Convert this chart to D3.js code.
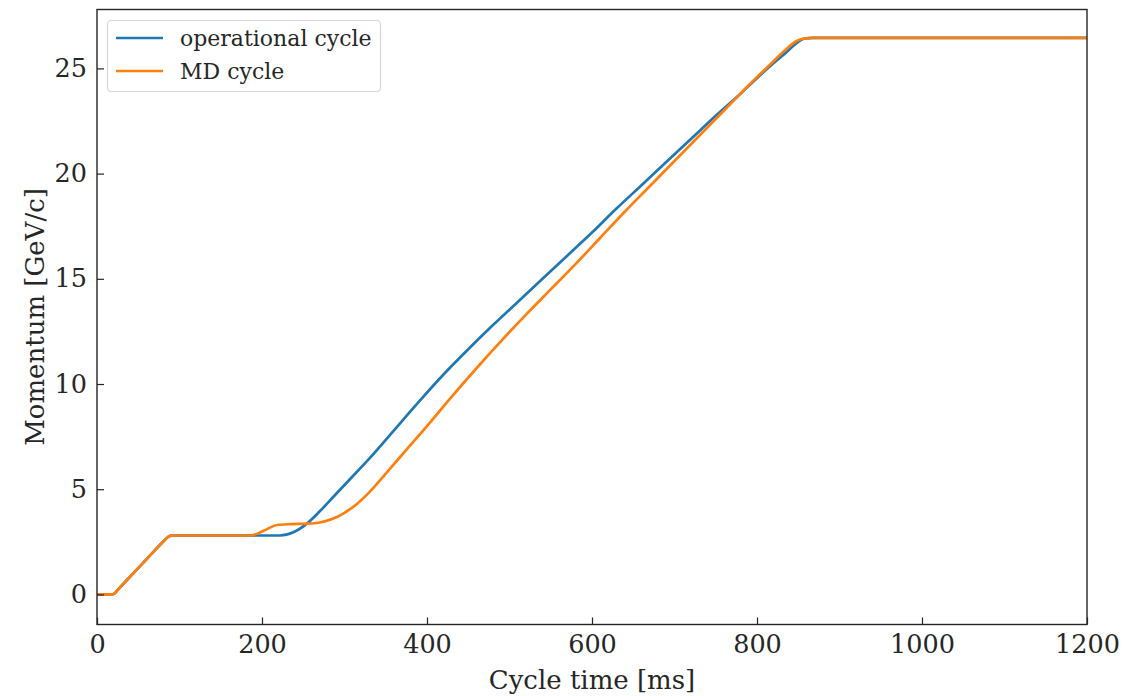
<!DOCTYPE html>
<html>
<head>
<meta charset="utf-8">
<script src="https://cdn.jsdelivr.net/npm/d3@7"></script>
<style>
  html, body { margin: 0; padding: 0; background: #fff; }
  svg { display: block; }
  text { font-family: "DejaVu Serif", serif; fill: #262626; }
</style>
</head>
<body>
<svg id="chart" width="1124" height="696"></svg>
<script>
// Momentum along the magnetic cycle (time in ms, momentum in GeV/c)
const operationalTime = [0, 18, 21, 25, 40, 60, 80, 84, 87, 91, 96, 222, 238, 254, 270, 288, 306, 330, 360, 390, 420, 450, 480, 510, 540, 570, 600, 630, 660, 690, 720, 750, 780, 810, 835, 848, 858, 868, 1200];
const operationalMomentum = [0, 0, 0.04, 0.21, 0.84, 1.67, 2.5, 2.66, 2.75, 2.79, 2.8, 2.8, 2.95, 3.35, 3.95, 4.7, 5.45, 6.45, 7.8, 9.15, 10.45, 11.65, 12.8, 13.9, 15.0, 16.1, 17.2, 18.35, 19.45, 20.55, 21.65, 22.75, 23.8, 24.9, 25.75, 26.2, 26.42, 26.45, 26.45];

const mdTime = [0, 18, 21, 25, 40, 60, 80, 84, 87, 91, 96, 185, 195, 205, 218, 235, 255, 270, 285, 300, 315, 330, 347, 370, 400, 430, 460, 490, 520, 550, 580, 610, 640, 670, 700, 730, 760, 775, 790, 815, 835, 848, 858, 868, 1200];
const mdMomentum = [0, 0, 0.04, 0.21, 0.84, 1.67, 2.5, 2.66, 2.75, 2.79, 2.8, 2.8, 2.9, 3.08, 3.3, 3.34, 3.36, 3.42, 3.58, 3.88, 4.3, 4.85, 5.6, 6.65, 8.0, 9.4, 10.75, 12.05, 13.3, 14.5, 15.7, 16.95, 18.2, 19.4, 20.6, 21.8, 23.0, 23.6, 24.2, 25.15, 25.9, 26.3, 26.43, 26.45, 26.45];

const seriesNames = ["operational cycle", "MD cycle"];
const seriesColors = ["#1f77b4", "#ff7f0e"];

const xTicks = [0, 200, 400, 600, 800, 1000, 1200];
const yTicks = [0, 5, 10, 15, 20, 25];

const plot = { left: 97, right: 1087, top: 9.5, bottom: 624.5 };

const svg = d3.select("#chart");

const x = d3.scaleLinear().domain([0, 1200]).range([plot.left, plot.right]);
const y = d3.scaleLinear().domain([-1.43, 27.8]).range([plot.bottom, plot.top]);

const series = [
  { name: seriesNames[0], color: seriesColors[0], pts: operationalTime.map((t, i) => [t, operationalMomentum[i]]) },
  { name: seriesNames[1], color: seriesColors[1], pts: mdTime.map((t, i) => [t, mdMomentum[i]]) }
];

const line = d3.line()
  .x(d => x(d[0]))
  .y(d => y(d[1]))
  .curve(d3.curveMonotoneX);

svg.append("defs").append("clipPath").attr("id", "plotClip")
  .append("rect")
  .attr("x", plot.left).attr("y", plot.top)
  .attr("width", plot.right - plot.left).attr("height", plot.bottom - plot.top);

const lines = svg.append("g").attr("clip-path", "url(#plotClip)");
series.forEach(s => {
  lines.append("path")
    .datum(s.pts)
    .attr("fill", "none")
    .attr("stroke", s.color)
    .attr("stroke-width", 2.7)
    .attr("stroke-linejoin", "round")
    .attr("stroke-linecap", "butt")
    .attr("d", line);
});

// Axes with inward ticks
const fmt = d3.format("d");
const xAxis = d3.axisBottom(x).tickValues(xTicks).tickFormat(fmt).tickSizeInner(-7).tickSizeOuter(0).tickPadding(10);
const yAxis = d3.axisLeft(y).tickValues(yTicks).tickFormat(fmt).tickSizeInner(-7).tickSizeOuter(0).tickPadding(10);

const gx = svg.append("g").attr("transform", `translate(0,${plot.bottom})`).call(xAxis);
const gy = svg.append("g").attr("transform", `translate(${plot.left},0)`).call(yAxis);

[gx, gy].forEach(g => {
  g.select(".domain").remove();
  g.selectAll(".tick line").attr("stroke", "#262626").attr("stroke-width", 1.2);
  g.selectAll(".tick text")
    .attr("font-family", "DejaVu Serif, serif")
    .attr("font-size", 25.5)
    .attr("fill", "#262626");
});

// Frame
svg.append("rect")
  .attr("x", plot.left).attr("y", plot.top)
  .attr("width", plot.right - plot.left).attr("height", plot.bottom - plot.top)
  .attr("fill", "none").attr("stroke", "#262626").attr("stroke-width", 1.4);

// Axis titles
svg.append("text")
  .attr("x", (plot.left + plot.right) / 2)
  .attr("y", 689)
  .attr("text-anchor", "middle")
  .attr("font-size", 26)
  .text("Cycle time [ms]");

svg.append("text")
  .attr("transform", `translate(43.5,${(plot.top + plot.bottom) / 2}) rotate(-90)`)
  .attr("text-anchor", "middle")
  .attr("font-size", 26)
  .text("Momentum [GeV/c]");

// Legend
const legend = svg.append("g");
legend.append("rect")
  .attr("x", 107.5).attr("y", 20.5)
  .attr("width", 273).attr("height", 71)
  .attr("rx", 4).attr("ry", 4)
  .attr("fill", "#fff").attr("fill-opacity", 0.8)
  .attr("stroke", "#d6d6d6").attr("stroke-width", 1.2);

series.forEach((s, i) => {
  const cy = 38 + i * 33;
  legend.append("line")
    .attr("x1", 116).attr("x2", 163)
    .attr("y1", cy).attr("y2", cy)
    .attr("stroke", s.color).attr("stroke-width", 2.7);
  legend.append("text")
    .attr("x", 180).attr("y", cy)
    .attr("dy", "0.35em")
    .attr("font-size", 22)
    .text(s.name);
});
</script>
</body>
</html>
